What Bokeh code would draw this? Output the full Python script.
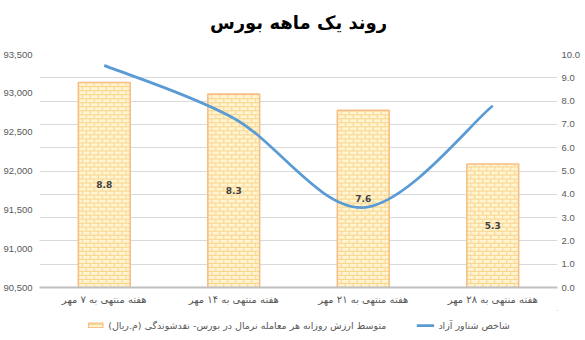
from bokeh.plotting import figure
from bokeh.layouts import column
from bokeh.models import (Range1d, LinearAxis, SingleIntervalTicker, FixedTicker,
                          NumeralTickFormatter, Legend, LegendItem, ColumnDataSource)
from bokeh.core.properties import value
from bokeh.embed import file_html
from bokeh.resources import INLINE

# ---------------- data ----------------
categories = ["هفته منتهی به ۷ مهر", "هفته منتهی به ۱۴ مهر",
              "هفته منتهی به ۲۱ مهر", "هفته منتهی به ۲۸ مهر"]
liquidity = [8.8, 8.3, 7.6, 5.3]                 # bars (right axis)
free_float_index = [93360, 92680, 91530, 92840]  # line (left axis)
bar_series_name = "متوسط ارزش روزانه هر معامله نرمال در بورس- نقدشوندگی (م.ریال)"
line_series_name = "شاخص شناور آزاد"
title_text = "روند یک ماهه بورس"
left_range = (90500, 93500)
right_range = (0, 10)

RLM = "\u200f"
FA_FONT = "DejaVu Sans"
NUM_FONT = "Liberation Sans"
TXT = "#595959"
BAR_FILL = "#FFF3D2"
BAR_LINE = "#F6BE84"
BRICK = "#F9D589"
LINE_COL = "#5B9BD5"

xs = list(range(1, len(categories) + 1))
BAR_W = 0.4

def bare(fig):
    fig.axis.visible = False
    fig.grid.visible = False
    fig.outline_line_color = None

# ---------------- title strip ----------------
hd = figure(width=585, height=44, x_range=Range1d(0, 1), y_range=Range1d(0, 1),
            output_backend="svg", toolbar_location=None,
            min_border_left=0, min_border_right=0, min_border_top=0,
            min_border_bottom=0)
bare(hd)
hd.text(x=[0.5], y=[0.5], text=[title_text], text_align="center",
        text_baseline="middle", text_font=value(FA_FONT), text_font_size="18px",
        text_font_style="bold", text_color="black")

# ---------------- main chart ----------------
p = figure(width=585, height=266, x_range=Range1d(0.5, len(categories) + 0.5),
           y_range=Range1d(*right_range), y_axis_location="right",
           output_backend="svg", toolbar_location=None,
           min_border_left=39, min_border_right=28, min_border_top=10,
           min_border_bottom=23)
p.extra_y_ranges = {"idx": Range1d(*left_range)}
p.outline_line_color = None

def style_axis(ax, font, size):
    ax.axis_line_color = None
    ax.major_tick_line_color = None
    ax.minor_tick_line_color = None
    ax.major_tick_out = 0
    ax.major_tick_in = 0
    ax.minor_tick_out = 0
    ax.minor_tick_in = 0
    ax.major_label_text_font = font
    ax.major_label_text_font_size = size
    ax.major_label_text_color = TXT

# right (primary) axis
ra = p.yaxis[0]
ra.ticker = SingleIntervalTicker(interval=1, num_minor_ticks=0)
ra.formatter = NumeralTickFormatter(format="0.0")
style_axis(ra, NUM_FONT, "9.5px")
ra.major_label_standoff = 4

# left axis
la = LinearAxis(y_range_name="idx",
                ticker=SingleIntervalTicker(interval=500, num_minor_ticks=0),
                formatter=NumeralTickFormatter(format="0,0"))
style_axis(la, NUM_FONT, "9.5px")
la.major_label_standoff = 7
p.add_layout(la, "left")

# x axis
xa = p.xaxis[0]
xa.ticker = FixedTicker(ticks=xs)
xa.major_label_overrides = {x: c for x, c in zip(xs, categories)}
style_axis(xa, FA_FONT, "10px")
xa.axis_line_color = "#bfbfbf"
xa.axis_line_width = 2
xa.major_label_standoff = 6

p.xgrid.grid_line_color = None
p.ygrid.grid_line_color = "#d9d9d9"
p.ygrid.grid_line_width = 1

# bars
src = ColumnDataSource(dict(x=xs, top=liquidity,
                            mid=[v / 2 for v in liquidity],
                            lab=[f"{v:.1f}" for v in liquidity]))
bars = p.vbar(x="x", top="top", width=BAR_W, bottom=0, source=src,
              fill_color=BAR_FILL, line_color=None)

# brick texture drawn inside each bar (derived from bar geometry)
row_h = 4 / 23.2 * (right_range[1] - right_range[0]) / 10   # ~4 px rows
brick_w = BAR_W / 6.5                                          # ~8 px bricks
hx0, hx1, hy = [], [], []
vx, vy0, vy1 = [], [], []
for x, top in zip(xs, liquidity):
    left, right = x - BAR_W / 2, x + BAR_W / 2
    r = 0
    y = 0.0
    while y < top:
        y_next = min(y + row_h, top)
        hx0.append(left); hx1.append(right); hy.append(y)
        k = left + (brick_w / 2 if r % 2 else brick_w)
        while k < right - 0.005:
            vx.append(k); vy0.append(y); vy1.append(y_next)
            k += brick_w
        y += row_h
        r += 1
p.segment(x0=hx0, x1=hx1, y0=hy, y1=hy, line_color=BRICK, line_width=1)
p.segment(x0=vx, x1=vx, y0=vy0, y1=vy1, line_color=BRICK, line_width=1)
p.vbar(x="x", top="top", width=BAR_W, bottom=0, source=src,
       fill_color=None, line_color=BAR_LINE, line_width=1.6)

p.text(x="x", y="mid", text="lab", source=src, text_align="center",
       text_baseline="middle", text_font=value("DejaVu Sans"),
       text_font_size="9px", text_font_style="bold", text_color="#404040")

# smooth (Excel-style) curve through the index points
n = len(xs)
bz = dict(x0=[], y0=[], x1=[], y1=[], cx0=[], cy0=[], cx1=[], cy1=[])
for i in range(n - 1):
    im = max(i - 1, 0)
    ip2 = min(i + 2, n - 1)
    bz["x0"].append(xs[i]); bz["y0"].append(free_float_index[i])
    bz["x1"].append(xs[i + 1]); bz["y1"].append(free_float_index[i + 1])
    bz["cx0"].append(xs[i] + (xs[i + 1] - xs[im]) / 6)
    bz["cy0"].append(free_float_index[i] + (free_float_index[i + 1] - free_float_index[im]) / 6)
    bz["cx1"].append(xs[i + 1] - (xs[ip2] - xs[i]) / 6)
    bz["cy1"].append(free_float_index[i + 1] - (free_float_index[ip2] - free_float_index[i]) / 6)
bz_src = ColumnDataSource(bz)
p.bezier(source=bz_src, x0="x0", y0="y0", x1="x1", y1="y1",
         cx0="cx0", cy0="cy0", cx1="cx1", cy1="cy1",
         y_range_name="idx", line_color=LINE_COL, line_width=2.75)

# ---------------- legend strip ----------------
lg = figure(width=585, height=30, x_range=Range1d(-10, -9), y_range=Range1d(-10, -9),
            output_backend="svg", toolbar_location=None,
            min_border_left=0, min_border_right=0, min_border_top=0,
            min_border_bottom=0)
bare(lg)
lbars = lg.vbar(x="x", top="top", width=BAR_W, bottom=0, source=src,
                fill_color=BAR_FILL, line_color=BAR_LINE, line_width=1.2,
                hatch_pattern="horizontal_line", hatch_color=BRICK, hatch_scale=3)
lcurve = lg.bezier(source=bz_src, x0="x0", y0="y0", x1="x1", y1="y1",
                   cx0="cx0", cy0="cy0", cx1="cx1", cy1="cy1",
                   line_color=LINE_COL, line_width=2.75)
legend = Legend(items=[LegendItem(label=bar_series_name + RLM, renderers=[lbars]),
                       LegendItem(label=line_series_name + RLM, renderers=[lcurve])],
                orientation="horizontal", location="center",
                label_text_font=FA_FONT, label_text_font_size="9.5px",
                label_text_color=TXT, border_line_color=None,
                background_fill_alpha=0, glyph_width=18, glyph_height=6,
                spacing=30, padding=0, margin=0, label_standoff=4,
                label_height=12)
lg.add_layout(legend, "center")

layout = column(hd, p, lg, spacing=0)
open("out.html", "w").write(file_html(layout, INLINE))
